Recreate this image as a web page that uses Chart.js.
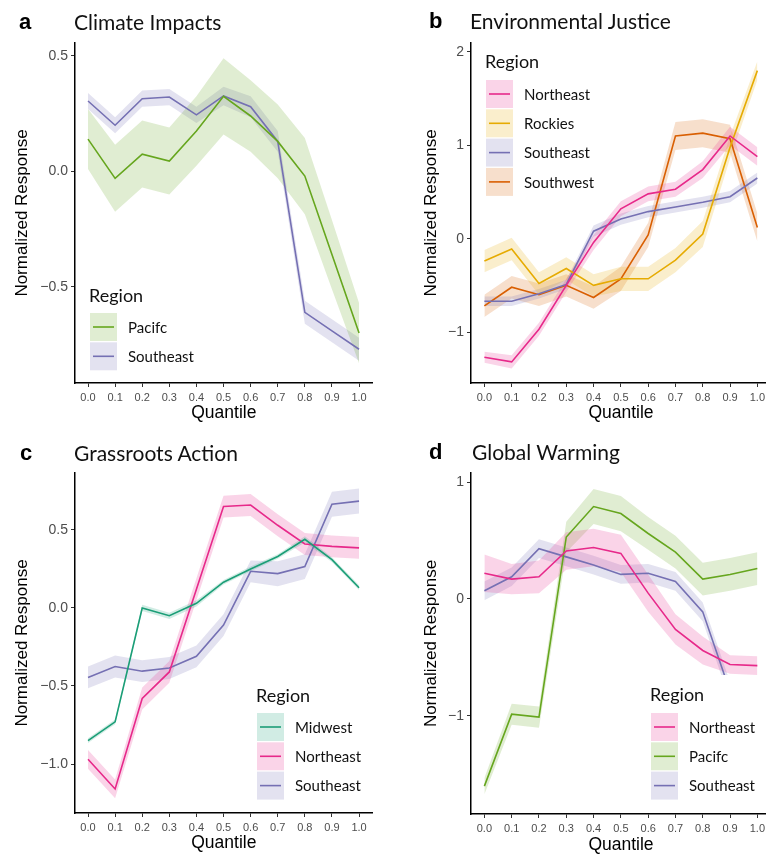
<!DOCTYPE html>
<html>
<head>
<meta charset="utf-8">
<script src="https://cdn.jsdelivr.net/npm/chart.js@4/dist/chart.umd.min.js"></script>
<style>
  body { margin: 0; background: #fff; width: 766px; height: 856px; overflow: hidden; position: relative; }
  .panel { position: absolute; width: 383px; height: 428px; overflow: hidden; }
  .panel canvas { position: absolute; left: 0; top: 0; }
  .tag { position: absolute; font: bold 22px "Liberation Sans", Arial, sans-serif; line-height: 30px; color: #000; }
  .ttl { position: absolute; font: 21px Lato, sans-serif; line-height: 30px; color: #111; }
</style>
</head>
<body>
<div class="panel" style="left:0;top:0">
  <canvas id="chartA" width="383" height="428"></canvas>
  <div class="tag" style="left:19px;top:7px">a</div>
  <div class="ttl" style="left:74px;top:7px">Climate Impacts</div>
</div>
<div class="panel" style="left:383px;top:0">
  <canvas id="chartB" width="400" height="428"></canvas>
  <div class="tag" style="left:46px;top:6px">b</div>
  <div class="ttl" style="left:87px;top:6px">Environmental Justice</div>
</div>
<div class="panel" style="left:0;top:428px">
  <canvas id="chartC" width="383" height="428"></canvas>
  <div class="tag" style="left:20px;top:10px">c</div>
  <div class="ttl" style="left:74px;top:10px">Grassroots Action</div>
</div>
<div class="panel" style="left:383px;top:428px">
  <canvas id="chartD" width="400" height="428"></canvas>
  <div class="tag" style="left:46px;top:9px">d</div>
  <div class="ttl" style="left:89px;top:9px">Global Warming</div>
</div>

<script>
// quantiles shared by all panels
const quantiles = [0, 0.1, 0.2, 0.3, 0.4, 0.5, 0.6, 0.7, 0.8, 0.9, 1.0];

// Dark2 colours per region
const regionColors = {
  Midwest: '#1B9E77',
  Southwest: '#D95F02',
  Southeast: '#7570B3',
  Northeast: '#E7298A',
  Pacifc: '#66A61E',
  Rockies: '#E6AB02'
};

// a - Climate Impacts
const aPacific = [0.14, -0.03, 0.075, 0.045, 0.175, 0.325, 0.24, 0.13, -0.02, -0.36, -0.70];
const aPacificCI = [0.13, 0.145, 0.145, 0.145, 0.15, 0.165, 0.155, 0.16, 0.165, 0.15, 0.13];
const aSoutheast = [0.305, 0.20, 0.315, 0.322, 0.245, 0.327, 0.28, 0.13, -0.61, -0.69, -0.77];
const aSoutheastCI = [0.035, 0.035, 0.035, 0.035, 0.035, 0.04, 0.045, 0.045, 0.05, 0.05, 0.05];
const aTicks = [-0.5, 0, 0.5];

// b - Environmental Justice
const bNortheast = [-1.27, -1.32, -0.97, -0.50, -0.04, 0.32, 0.48, 0.53, 0.74, 1.10, 0.88];
const bNortheastCI = [0.06, 0.07, 0.07, 0.07, 0.08, 0.08, 0.08, 0.08, 0.09, 0.1, 0.1];
const bRockies = [-0.24, -0.11, -0.48, -0.32, -0.50, -0.43, -0.43, -0.23, 0.05, 0.98, 1.80];
const bRockiesCI = [0.12, 0.12, 0.12, 0.12, 0.12, 0.13, 0.13, 0.13, 0.14, 0.12, 0.1];
const bSoutheast = [-0.67, -0.67, -0.59, -0.49, 0.08, 0.21, 0.29, 0.34, 0.39, 0.45, 0.65];
const bSoutheastCI = [0.05, 0.05, 0.05, 0.05, 0.06, 0.06, 0.06, 0.06, 0.06, 0.06, 0.06];
const bSouthwest = [-0.72, -0.52, -0.60, -0.50, -0.63, -0.43, 0.04, 1.10, 1.13, 1.07, 0.12];
const bSouthwestCI = [0.12, 0.12, 0.12, 0.12, 0.12, 0.13, 0.13, 0.15, 0.15, 0.15, 0.15];
const bTicks = [-1, 0, 1, 2];

// c - Grassroots Action
const cMidwest = [-0.85, -0.73, 0.0, -0.05, 0.03, 0.165, 0.25, 0.33, 0.44, 0.31, 0.13];
const cMidwestCI = [0.015, 0.015, 0.02, 0.02, 0.02, 0.015, 0.015, 0.015, 0.02, 0.015, 0.015];
const cNortheast = [-0.97, -1.16, -0.58, -0.41, 0.12, 0.65, 0.66, 0.53, 0.41, 0.395, 0.385];
const cNortheastCI = [0.06, 0.06, 0.07, 0.07, 0.07, 0.07, 0.07, 0.07, 0.07, 0.07, 0.07];
const cSoutheast = [-0.445, -0.375, -0.405, -0.385, -0.31, -0.11, 0.235, 0.22, 0.265, 0.665, 0.685];
const cSoutheastCI = [0.07, 0.07, 0.07, 0.07, 0.07, 0.07, 0.07, 0.08, 0.08, 0.08, 0.08];
const cTicks = [-1.0, -0.5, 0, 0.5];

// d - Global Warming
const dNortheast = [0.22, 0.17, 0.19, 0.41, 0.44, 0.39, 0.05, -0.26, -0.44, -0.56, -0.57];
const dNortheastCI = [0.16, 0.13, 0.14, 0.16, 0.16, 0.16, 0.16, 0.13, 0.12, 0.08, 0.08];
const dPacific = [-1.60, -0.985, -1.01, 0.53, 0.79, 0.73, 0.56, 0.40, 0.17, 0.21, 0.26];
const dPacificCI = [0.07, 0.09, 0.09, 0.13, 0.15, 0.15, 0.14, 0.14, 0.14, 0.14, 0.14];
const dSoutheast = [0.07, 0.19, 0.43, 0.36, 0.29, 0.21, 0.22, 0.15, -0.11, -0.79, -0.95];
const dSoutheastCI = [0.08, 0.08, 0.08, 0.08, 0.08, 0.08, 0.08, 0.08, 0.08, 0.08, 0.08];
const dTicks = [-1, 0, 1];

function withAlpha(hex, a) {
  const n = parseInt(hex.slice(1), 16);
  return 'rgba(' + (n >> 16) + ',' + ((n >> 8) & 255) + ',' + (n & 255) + ',' + a + ')';
}

function fmtTick(v, dec) {
  return (v < -1e-9 ? '\u2212' : '') + Math.abs(v).toFixed(dec);
}

function makePanel(id, p) {
  const datasets = [];
  // ribbons first (drawn under every line)
  p.series.forEach(s => {
    datasets.push({
      data: quantiles.map((q, k) => ({ x: q, y: s.mean[k] - s.ci[k] })),
      borderColor: 'rgba(0,0,0,0)', borderWidth: 0, pointRadius: 0, fill: false, order: 2
    });
    datasets.push({
      data: quantiles.map((q, k) => ({ x: q, y: s.mean[k] + s.ci[k] })),
      borderColor: 'rgba(0,0,0,0)', borderWidth: 0, pointRadius: 0,
      fill: '-1', backgroundColor: withAlpha(regionColors[s.name], 0.2), order: 2
    });
  });
  p.series.forEach(s => {
    datasets.push({
      label: s.name,
      data: quantiles.map((q, k) => ({ x: q, y: s.mean[k] })),
      borderColor: regionColors[s.name], borderWidth: 1.6, pointRadius: 0, fill: false, order: 1
    });
  });

  // ggplot-like legend drawn inside the panel
  const legendPlugin = {
    id: 'regionLegend',
    afterDraw(chart) {
      const L = p.legend, ctx = chart.ctx, area = chart.chartArea;
      const step = 29.3;
      ctx.save();
      ctx.font = '15px Lato';
      let w = 0;
      p.series.forEach(s => { w = Math.max(w, ctx.measureText(s.name).width); });
      const bx = Math.max(L.x - 6, area.left + 2);
      const by = Math.max(L.titleY - 20, area.top);
      ctx.fillStyle = '#fff';
      ctx.fillRect(bx, by, L.x + 39 + w + 6 - bx, L.keyTop + p.series.length * step + 4 - by);
      ctx.fillStyle = '#111';
      ctx.font = '18px Lato';
      ctx.textBaseline = 'middle';
      ctx.fillText('Region', L.x, L.titleY);
      ctx.font = '15px Lato';
      p.series.forEach((s, i) => {
        const ky = L.keyTop + i * step;
        const col = regionColors[s.name];
        ctx.fillStyle = withAlpha(col, 0.2);
        ctx.fillRect(L.x + 1, ky, 27, 28);
        ctx.strokeStyle = col;
        ctx.lineWidth = 1.6;
        ctx.beginPath();
        ctx.moveTo(L.x + 4, ky + 14);
        ctx.lineTo(L.x + 25, ky + 14);
        ctx.stroke();
        ctx.fillStyle = '#111';
        ctx.fillText(s.name, L.x + 39, ky + 15);
      });
      ctx.restore();
    }
  };

  const canvas = document.getElementById(id);
  return new Chart(canvas.getContext('2d'), {
    type: 'line',
    data: { datasets: datasets },
    plugins: [legendPlugin],
    options: {
      responsive: false,
      animation: false,
      devicePixelRatio: 1,
      layout: { padding: { top: p.top, right: canvas.width - p.right, left: 0, bottom: 0 } },
      plugins: { legend: { display: false }, tooltip: { enabled: false } },
      elements: { line: { tension: 0 } },
      scales: {
        x: {
          type: 'linear', min: p.xMin, max: 1.05,
          afterBuildTicks: s => { s.ticks = quantiles.map(v => ({ value: v })); },
          afterFit: s => { s.height = p.xAxisH; },
          ticks: {
            autoSkip: false, maxRotation: 0, padding: 4,
            color: '#4D4D4D', font: { family: 'Liberation Sans', size: 11 },
            callback: v => v.toFixed(1)
          },
          grid: { drawOnChartArea: false, drawTicks: true, tickLength: 4, tickColor: '#333', tickWidth: 1 },
          border: { display: true, color: '#000', width: 1.5 },
          title: {
            display: true, text: 'Quantile', color: '#000',
            font: { family: 'Liberation Sans', size: 17.5 },
            padding: { top: 0, bottom: p.xTitlePad }
          }
        },
        y: {
          type: 'linear', min: p.yMin, max: p.yMax,
          afterBuildTicks: s => { s.ticks = p.yTicks.map(v => ({ value: v })); },
          afterFit: s => { s.width = p.yAxisW; },
          ticks: {
            padding: 3, color: '#4D4D4D', font: { family: 'Liberation Sans', size: 14 },
            callback: v => fmtTick(v, p.dec)
          },
          grid: { drawOnChartArea: false, drawTicks: true, tickLength: 4, tickColor: '#333', tickWidth: 1 },
          border: { display: true, color: '#000', width: 1.5 },
          title: {
            display: true, text: 'Normalized Response', color: '#000',
            font: { family: 'Liberation Sans', size: 17 },
            padding: { top: p.yTitlePad, bottom: 0 }
          }
        }
      }
    }
  });
}

makePanel('chartA', {
  series: [
    { name: 'Pacifc', mean: aPacific, ci: aPacificCI },
    { name: 'Southeast', mean: aSoutheast, ci: aSoutheastCI }
  ],
  yTicks: aTicks, dec: 1, yMin: -0.916, yMax: 0.556, xMin: -0.048,
  top: 43, right: 372.6, xAxisH: 45, yAxisW: 75, yTitlePad: 12, xTitlePad: 4.5,
  legend: { x: 89, titleY: 296, keyTop: 313 }
});

makePanel('chartB', {
  series: [
    { name: 'Northeast', mean: bNortheast, ci: bNortheastCI },
    { name: 'Rockies', mean: bRockies, ci: bRockiesCI },
    { name: 'Southeast', mean: bSoutheast, ci: bSoutheastCI },
    { name: 'Southwest', mean: bSouthwest, ci: bSouthwestCI }
  ],
  yTicks: bTicks, dec: 0, yMin: -1.546, yMax: 2.096, xMin: -0.049,
  top: 43, right: 388, xAxisH: 45, yAxisW: 88, yTitlePad: 38, xTitlePad: 4.5,
  legend: { x: 102, titleY: 62, keyTop: 80 }
});

makePanel('chartC', {
  series: [
    { name: 'Midwest', mean: cMidwest, ci: cMidwestCI },
    { name: 'Northeast', mean: cNortheast, ci: cNortheastCI },
    { name: 'Southeast', mean: cSoutheast, ci: cSoutheastCI }
  ],
  yTicks: cTicks, dec: 1, yMin: -1.314, yMax: 0.865, xMin: -0.048,
  top: 45, right: 372.6, xAxisH: 43, yAxisW: 75, yTitlePad: 12, xTitlePad: 2.5,
  legend: { x: 256, titleY: 268, keyTop: 285 }
});

makePanel('chartD', {
  series: [
    { name: 'Northeast', mean: dNortheast, ci: dNortheastCI },
    { name: 'Pacifc', mean: dPacific, ci: dPacificCI },
    { name: 'Southeast', mean: dSoutheast, ci: dSoutheastCI }
  ],
  yTicks: dTicks, dec: 0, yMin: -1.838, yMax: 1.077, xMin: -0.049,
  top: 45, right: 388, xAxisH: 42, yAxisW: 88, yTitlePad: 38, xTitlePad: 0.5,
  legend: { x: 267, titleY: 267, keyTop: 285 }
});
</script>
</body>
</html>
